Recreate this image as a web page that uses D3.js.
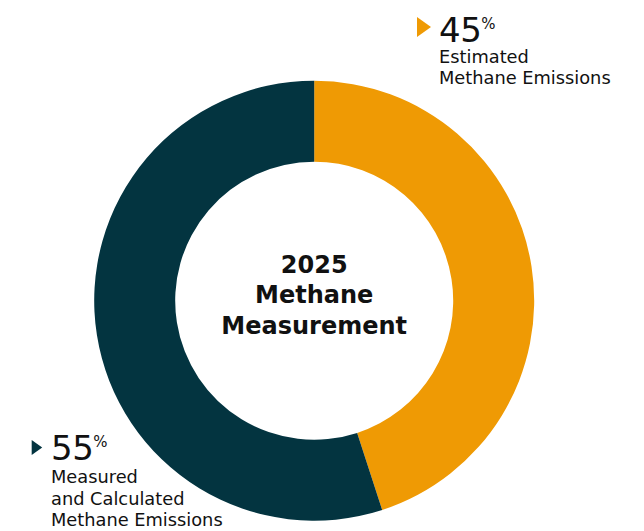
<!DOCTYPE html>
<html><head><meta charset="utf-8">
<script src="https://cdn.jsdelivr.net/npm/d3@7"></script>
<style>html,body{margin:0;padding:0;background:#fff;}svg{display:block;}</style>
</head><body>
<svg id="chart" width="644" height="531"></svg>
<script>
const categories = ["Estimated Methane Emissions", "Measured and Calculated Methane Emissions"];
const values = [45, 55];
const colors = ["#EF9A04", "#033440"];
const labelLines = [["Estimated", "Methane Emissions"], ["Measured", "and Calculated", "Methane Emissions"]];
const centerTitle = ["2025", "Methane", "Measurement"];

const svg = d3.select("#chart");
const cx = 314.2, cy = 300.7, rOuter = 220, rInner = 139;
const font = "'DejaVu Sans', sans-serif";

const pie = d3.pie().sort(null).value(d => d)(values);
const arc = d3.arc().innerRadius(rInner).outerRadius(rOuter);
const g = svg.append("g").attr("transform", `translate(${cx},${cy})`);
g.selectAll("path").data(pie).join("path")
  .attr("d", arc).attr("fill", (d, i) => colors[i]);

// center title
g.append("text").attr("text-anchor", "middle").attr("font-family", font)
  .attr("font-weight", 700).attr("font-size", 24).attr("fill", "#111")
  .selectAll("tspan").data(centerTitle).join("tspan")
  .attr("x", 0).attr("y", (d, i) => -28 + i * 30.5).text(d => d);

// labels
const labelPos = [
  {tx: 417, ty: 27, tw: 14, th: 20, x: 439, yNum: 42.3, yText: 63.3, dy: 20.3},
  {tx: 31.7, ty: 447.5, tw: 10.5, th: 15, x: 51, yNum: 460, yText: 483.3, dy: 21.3}
];
labelPos.forEach((p, i) => {
  const lg = svg.append("g");
  lg.append("path")
    .attr("d", `M${p.tx},${p.ty - p.th/2} L${p.tx + p.tw},${p.ty} L${p.tx},${p.ty + p.th/2} Z`)
    .attr("fill", colors[i]);
  const num = lg.append("text").attr("x", p.x).attr("y", p.yNum)
    .attr("font-family", font).attr("fill", "#111");
  num.append("tspan").attr("font-size", 34).attr("letter-spacing", -0.5).text(values[i]);
  num.append("tspan").attr("font-size", 15).attr("dx", 0).attr("dy", -13).text("%");
  lg.append("text").attr("font-family", font).attr("font-size", 17.8).attr("fill", "#111")
    .selectAll("tspan").data(labelLines[i]).join("tspan")
    .attr("x", p.x).attr("y", (d, j) => p.yText + j * p.dy).text(d => d);
});
</script>
</body></html>
